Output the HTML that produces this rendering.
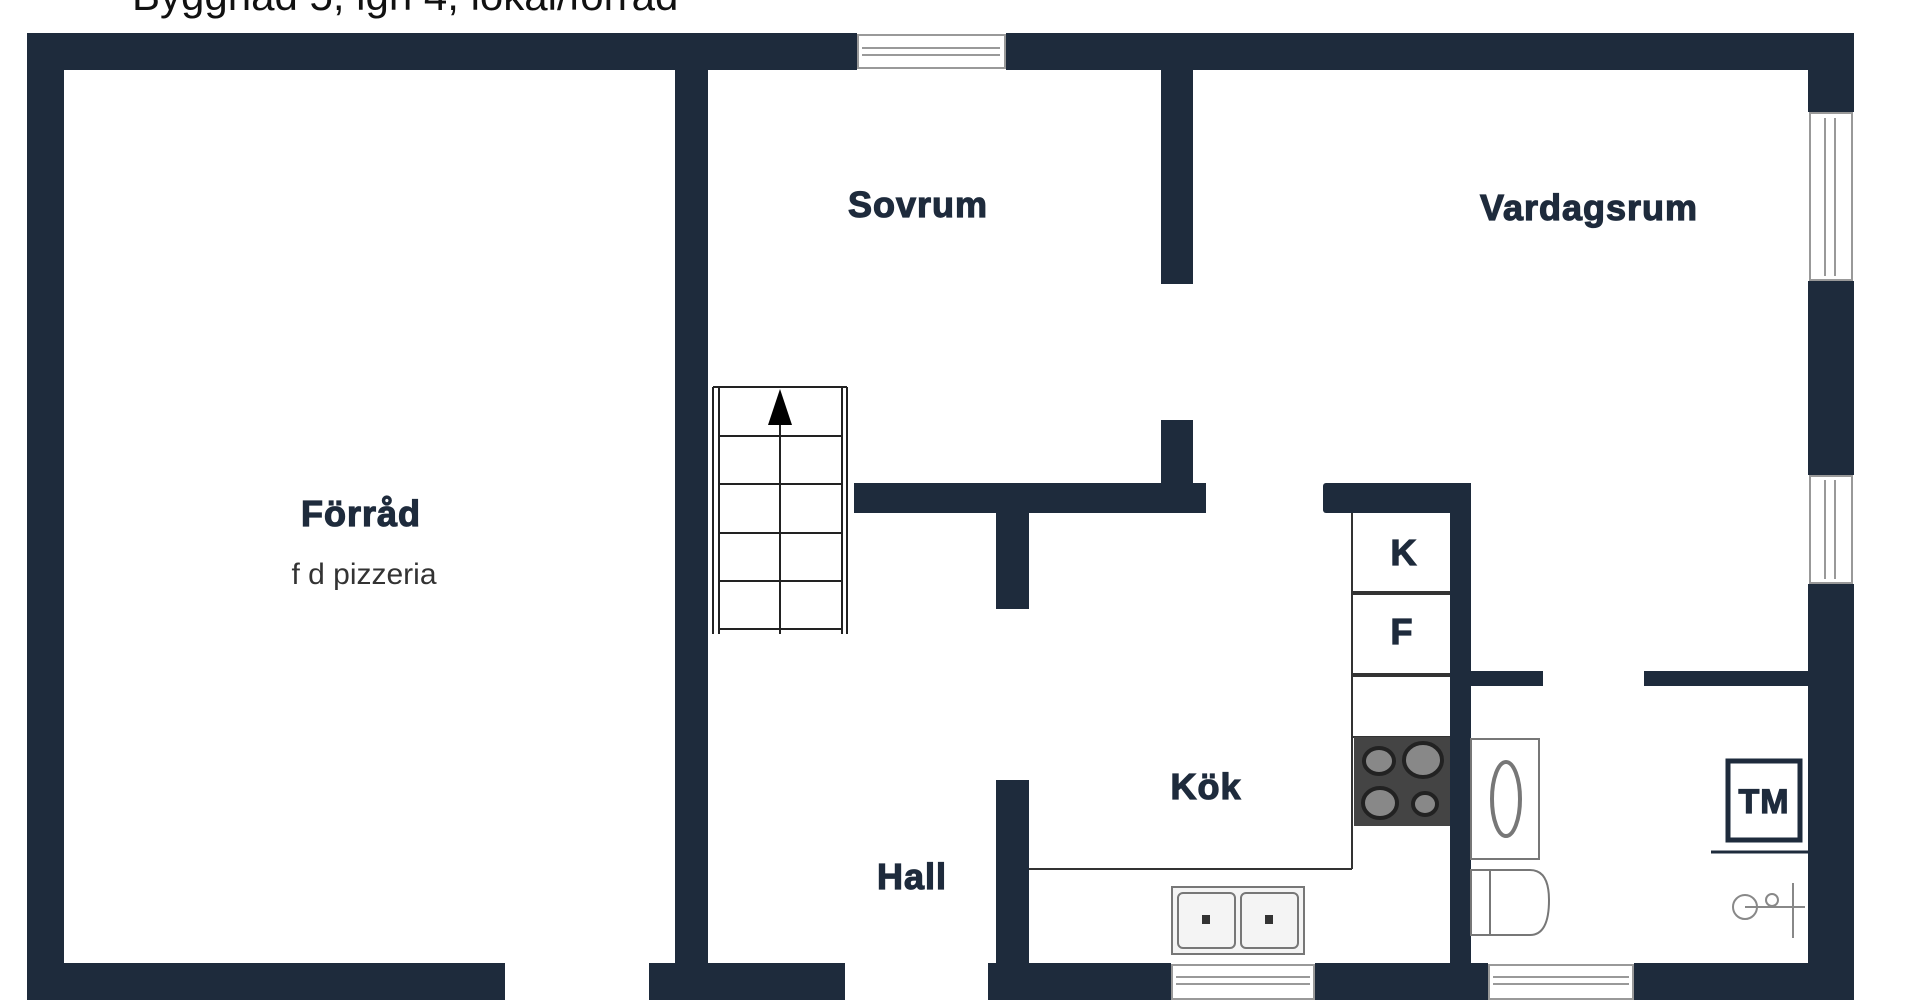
<!DOCTYPE html>
<html><head><meta charset="utf-8"><style>
html,body{margin:0;padding:0;background:#fff;width:1920px;height:1000px;overflow:hidden}
svg{display:block}
.lbl{font-family:"Liberation Sans",Arial,sans-serif;font-weight:bold;fill:#1e2b3c;stroke:#1e2b3c;stroke-width:1.2px;letter-spacing:1px}
</style></head><body>
<svg width="1920" height="1000" viewBox="0 0 1920 1000" xmlns="http://www.w3.org/2000/svg">
<rect width="1920" height="1000" fill="#fff"/>
<text x="132" y="10" font-family="Liberation Sans,Arial,sans-serif" font-size="42" fill="#111">Byggnad 5, lgh 4, lokal/förråd</text>
<g fill="#1e2b3c">
<rect x="27" y="33" width="830" height="37"/>
<rect x="1006" y="33" width="848" height="37"/>
<rect x="27" y="33" width="37" height="967"/>
<rect x="1808" y="33" width="46" height="79"/>
<rect x="1808" y="281" width="46" height="194"/>
<rect x="1808" y="584" width="46" height="416"/>
<rect x="27" y="963" width="478" height="37"/>
<rect x="649" y="963" width="196" height="37"/>
<rect x="988" y="963" width="183" height="37"/>
<rect x="1315" y="963" width="173" height="37"/>
<rect x="1634" y="963" width="220" height="37"/>
<rect x="675" y="70" width="33" height="900"/>
<rect x="1161" y="70" width="32" height="214"/>
<rect x="1161" y="420" width="32" height="70"/>
<rect x="854" y="483" width="352" height="30"/>
<rect x="996" y="513" width="33" height="96"/>
<rect x="996" y="780" width="33" height="190"/>
<rect x="1323" y="483" width="148" height="30" rx="3"/>
<rect x="1450" y="483" width="21" height="490"/>
<rect x="1470" y="671" width="73" height="15"/>
<rect x="1644" y="671" width="164" height="15"/>
</g>
<g fill="#fff" stroke="#999" stroke-width="2">
<rect x="858" y="35" width="147" height="33"/>
<line x1="862" y1="48" x2="1000" y2="48"/><line x1="862" y1="55" x2="1000" y2="55"/>
<rect x="1172" y="965" width="142" height="34"/>
<line x1="1176" y1="977" x2="1310" y2="977"/><line x1="1176" y1="984" x2="1310" y2="984"/>
<rect x="1489" y="965" width="144" height="34"/>
<line x1="1493" y1="977" x2="1629" y2="977"/><line x1="1493" y1="984" x2="1629" y2="984"/>
<rect x="1810" y="113" width="42" height="167"/>
<line x1="1825" y1="118" x2="1825" y2="276"/><line x1="1835" y1="118" x2="1835" y2="276"/>
<rect x="1810" y="476" width="42" height="107"/>
<line x1="1825" y1="480" x2="1825" y2="579"/><line x1="1835" y1="480" x2="1835" y2="579"/>
</g>
<g stroke="#222" stroke-width="2" fill="none">
<line x1="713" y1="387" x2="713" y2="634"/><line x1="719" y1="387" x2="719" y2="634"/>
<line x1="842" y1="387" x2="842" y2="634"/><line x1="847" y1="387" x2="847" y2="634"/>
<line x1="713" y1="387" x2="847" y2="387"/>
<line x1="719" y1="436" x2="842" y2="436"/><line x1="719" y1="484" x2="842" y2="484"/>
<line x1="719" y1="533" x2="842" y2="533"/><line x1="719" y1="581" x2="842" y2="581"/>
<line x1="719" y1="629" x2="842" y2="629"/>
<line x1="780" y1="410" x2="780" y2="634"/>
</g>
<polygon points="780,389 768,425 792,425" fill="#000"/>
<g stroke="#333" stroke-width="2" fill="none">
<line x1="1029" y1="869" x2="1352" y2="869"/>
<line x1="1352" y1="513" x2="1352" y2="869"/>
<line x1="1352" y1="593" x2="1450" y2="593" stroke-width="4"/>
<line x1="1352" y1="675" x2="1450" y2="675" stroke-width="4"/>
<line x1="1352" y1="737" x2="1450" y2="737"/>
</g>
<rect x="1354" y="737" width="96" height="89" fill="#444"/>
<g fill="#888" stroke="#222" stroke-width="4">
<ellipse cx="1379" cy="761" rx="15" ry="13"/><ellipse cx="1423" cy="760" rx="19" ry="17"/>
<ellipse cx="1380" cy="803" rx="17" ry="15"/><ellipse cx="1425" cy="804" rx="12" ry="11"/>
</g>
<g stroke="#777" stroke-width="2" fill="#f4f4f4">
<rect x="1172" y="887" width="132" height="67"/>
<rect x="1178" y="893" width="57" height="55" rx="5"/><rect x="1241" y="893" width="57" height="55" rx="5"/>
</g>
<rect x="1202" y="915" width="8" height="9" fill="#333"/><rect x="1265" y="915" width="8" height="9" fill="#333"/>
<g stroke="#777" stroke-width="2" fill="#fff">
<rect x="1471" y="739" width="68" height="120"/>
<ellipse cx="1506" cy="799" rx="14" ry="37" stroke-width="4"/>
<path d="M1471 870 H1530 Q1549 870 1549 900 Q1549 935 1530 935 H1471 Z"/>
<line x1="1490" y1="870" x2="1490" y2="935"/>
</g>
<rect x="1728" y="761" width="72" height="79" fill="none" stroke="#1e2b3c" stroke-width="5"/>
<line x1="1711" y1="852" x2="1808" y2="852" stroke="#1e2b3c" stroke-width="3"/>
<g stroke="#888" stroke-width="2" fill="none">
<circle cx="1745" cy="907" r="12"/><line x1="1745" y1="907" x2="1805" y2="907"/>
<line x1="1793" y1="883" x2="1793" y2="938"/><circle cx="1772" cy="900" r="6"/>
</g>
<text class="lbl" x="918" y="217" font-size="36" text-anchor="middle">Sovrum</text>
<text class="lbl" x="1589" y="220" font-size="36" text-anchor="middle">Vardagsrum</text>
<text class="lbl" x="361" y="526" font-size="36" text-anchor="middle">Förråd</text>
<text x="364" y="584" font-size="30" text-anchor="middle" font-family="Liberation Sans,Arial,sans-serif" fill="#333">f d pizzeria</text>
<text class="lbl" x="1404" y="565" font-size="36" text-anchor="middle">K</text>
<text class="lbl" x="1402" y="644" font-size="36" text-anchor="middle">F</text>
<text class="lbl" x="1206" y="799" font-size="36" text-anchor="middle">Kök</text>
<text class="lbl" x="912" y="889" font-size="36" text-anchor="middle">Hall</text>
<text class="lbl" x="1764" y="813" font-size="34" text-anchor="middle">TM</text>
</svg>
</body></html>
